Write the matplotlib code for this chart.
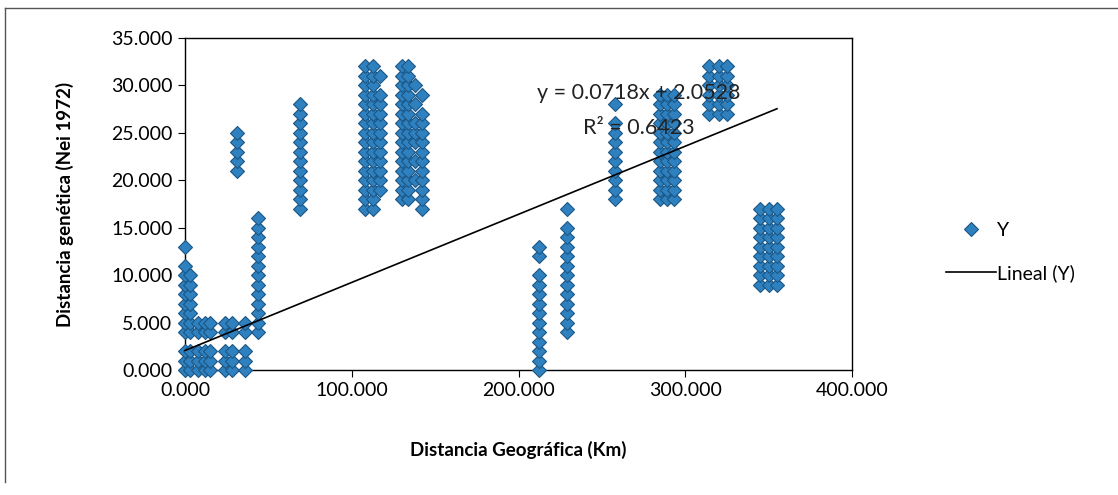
import matplotlib
matplotlib.use("Agg")
import matplotlib.pyplot as plt
from matplotlib.lines import Line2D
from matplotlib.ticker import FuncFormatter

plt.rcParams['font.family'] = ['Lato', 'DejaVu Sans']

# Data: columns of points (geographic distance, genetic distances)
col_x = [0, 3, 8, 12, 15, 24, 28, 36, 31, 44, 69,
         108, 113, 117, 130, 134, 138, 142,
         212, 229, 258, 285, 289, 293, 314, 320, 325, 345, 350, 355]
col_y = [
    [0, 1, 2, 4, 5, 6, 7, 8, 9, 10, 11, 13],
    [0, 1, 2, 4, 5, 6, 7, 8, 9, 10],
    [0, 1, 2, 4, 5],
    [0, 1, 2, 4, 5],
    [0, 1, 2, 4, 5],
    [0, 1, 2, 4, 5],
    [0, 1, 2, 4, 5],
    [0, 1, 2, 4, 5],
    [21, 22, 23, 24, 25],
    [4, 5, 6, 7, 8, 9, 10, 11, 12, 13, 14, 15, 16],
    [17, 18, 19, 20, 21, 22, 23, 24, 25, 26, 27, 28],
    [17, 18, 19, 20, 21, 22, 23, 24, 25, 26, 27, 28, 29, 30, 31, 32],
    [17, 18, 19, 20, 21, 22, 23, 24, 25, 26, 27, 28, 29, 30, 31, 32],
    [19, 20, 21, 22, 23, 24, 25, 26, 27, 28, 29, 31],
    [18, 19, 20, 21, 22, 23, 24, 25, 26, 27, 28, 29, 30, 31, 32],
    [18, 19, 20, 21, 22, 23, 24, 25, 26, 27, 28, 29, 30, 31, 32],
    [20, 22, 24, 25, 26, 28, 30],
    [17, 18, 19, 20, 21, 22, 23, 24, 25, 26, 27, 29],
    [0, 1, 2, 3, 4, 5, 6, 7, 8, 9, 10, 12, 13],
    [4, 5, 6, 7, 8, 9, 10, 11, 12, 13, 14, 15, 17],
    [18, 19, 20, 21, 22, 23, 24, 25, 26, 28],
    [18, 19, 20, 21, 22, 23, 24, 25, 26, 27, 28, 29],
    [18, 19, 20, 21, 22, 23, 24, 25, 26, 27, 28, 29],
    [18, 19, 20, 21, 22, 23, 24, 25, 26, 27, 28, 29],
    [27, 28, 29, 30, 31, 32],
    [27, 28, 29, 30, 31, 32],
    [27, 28, 29, 30, 31, 32],
    [9, 10, 11, 12, 13, 14, 15, 16, 17],
    [9, 10, 11, 12, 13, 14, 15, 16, 17],
    [9, 10, 11, 12, 13, 14, 15, 16, 17],
]
slope = 0.0718
intercept = 2.0528
r2 = 0.6423
x_ticks = [0, 100, 200, 300, 400]
y_ticks = [0, 5, 10, 15, 20, 25, 30, 35]

xs, ys = [], []
for cx, cy in zip(col_x, col_y):
    for v in cy:
        xs.append(cx)
        ys.append(v)

W, H = 1118, 495
fig = plt.figure(figsize=(W / 100, H / 100), dpi=100)
ax = fig.add_axes([185 / W, 1 - 370 / H, (852 - 185) / W, (370 - 38) / H])

blue = '#2F80BE'
edge = '#1B5786'
ms = 7.4
ax.plot(xs, ys, linestyle='none', marker='D', markersize=ms,
        markerfacecolor=blue, markeredgecolor=edge, markeredgewidth=0.8,
        zorder=3, clip_on=False)

xmin, xmax = min(xs), max(xs)
ax.plot([xmin, xmax], [slope * xmin + intercept, slope * xmax + intercept],
        color='black', lw=1.2, zorder=4, clip_on=False)

ax.text(272, 29.2, f'y = {slope}x + {intercept}', ha='center', va='center',
        fontsize=15.5, color='#222222', zorder=5)
ax.text(272, 25.5, f'R² = {r2}', ha='center', va='center',
        fontsize=15.5, color='#222222', zorder=5)

ax.set_xlim(0, 400)
ax.set_ylim(0, 35)
ax.set_xticks(x_ticks)
ax.set_yticks(y_ticks)
fmt = FuncFormatter(lambda v, p: f'{v:.3f}')
ax.xaxis.set_major_formatter(fmt)
ax.yaxis.set_major_formatter(fmt)
ax.tick_params(axis='both', labelsize=14, color='black', length=5,
               direction='out', pad=4)
for s in ax.spines.values():
    s.set_color('black')
    s.set_linewidth(1.0)

ax.set_xlabel('Distancia Geográfica (Km)', fontsize=13.5, fontweight='bold', labelpad=30)
ax.set_ylabel('Distancia genética (Nei 1972)', fontsize=13.5, fontweight='bold', labelpad=27)

# Legend
handles = [
    Line2D([], [], linestyle='none', marker='D', markersize=ms,
           markerfacecolor=blue, markeredgecolor=edge, markeredgewidth=0.8, label='Y'),
    Line2D([], [], color='black', lw=1.2, label='Lineal (Y)'),
]
fig.legend(handles=handles, loc='center left', bbox_to_anchor=(938 / W, 1 - 252 / H),
           frameon=False, fontsize=14, handlelength=2.6, labelspacing=1.3,
           handletextpad=0.05, borderaxespad=0)

# Outer frame lines (chart area border)
fig.add_artist(Line2D([5 / W, 5 / W], [1 - 8 / H, 1 - 482 / H], color='#555555', lw=1.0,
                      transform=fig.transFigure))
fig.add_artist(Line2D([5 / W, 1.0], [1 - 8 / H, 1 - 8 / H], color='#555555', lw=1.0,
                      transform=fig.transFigure))

fig.savefig('out.png', dpi=100, facecolor='white')
